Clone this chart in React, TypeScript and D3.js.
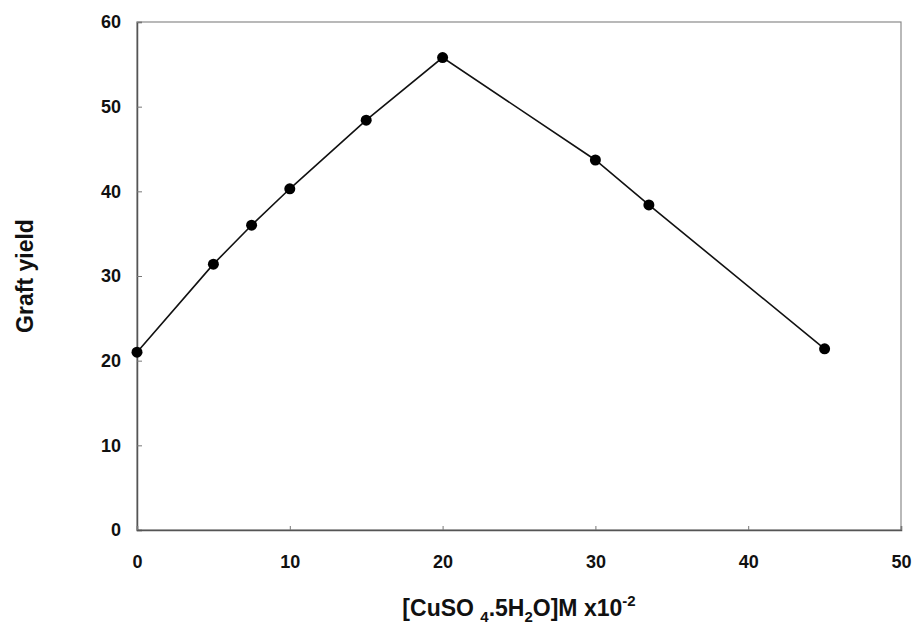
import React, { useEffect, useRef } from 'react';
import * as d3 from 'd3';

const width = 914;
const height = 625;
const margin = { top: 22, right: 12, bottom: 95, left: 137 };

// [CuSO4.5H2O] (M x10^-2) and graft yield
const conc = [0, 5, 7.5, 10, 15, 20, 30, 33.5, 45];
const graftYield = [21.0, 31.4, 36.0, 40.3, 48.4, 55.8, 43.7, 38.4, 21.4];
const xTicks = [0, 10, 20, 30, 40, 50];
const yTicks = [0, 10, 20, 30, 40, 50, 60];

const font = 'Liberation Sans, Arial, sans-serif';

const App = () => {
	const ref = useRef<SVGSVGElement | null>(null);

	useEffect(() => {
		const svg = d3.select(ref.current);
		svg.selectAll('*').remove();

		const x = d3
			.scaleLinear()
			.domain([0, 50])
			.range([margin.left, width - margin.right - 1]);
		const y = d3
			.scaleLinear()
			.domain([0, 60])
			.range([height - margin.bottom, margin.top]);

		// frame (top/right lighter like the scan)
		svg.append('rect')
			.attr('x', x(0))
			.attr('y', y(60))
			.attr('width', x(50) - x(0))
			.attr('height', y(0) - y(60))
			.attr('fill', 'none')
			.attr('stroke', '#8a8a8a')
			.attr('stroke-width', 1.2);

		const yAxis = svg
			.append('g')
			.attr('transform', `translate(${x(0)},0)`)
			.call(d3.axisLeft(y).tickValues(yTicks).tickSize(-5).tickPadding(16));
		const xAxis = svg
			.append('g')
			.attr('transform', `translate(0,${y(0)})`)
			.call(d3.axisBottom(x).tickValues(xTicks).tickSize(-4).tickPadding(25));

		[yAxis, xAxis].forEach((g) => {
			g.select('.domain').attr('stroke', '#555').attr('stroke-width', 1.5);
			g.selectAll('.tick line').attr('stroke', '#777');
			g.selectAll('text')
				.attr('font-family', font)
				.attr('font-weight', 'bold')
				.attr('font-size', 18)
				.attr('fill', '#111');
		});

		const line = d3
			.line<number>()
			.x((d, i) => x(conc[i]))
			.y((d) => y(d));

		svg.append('path')
			.datum(graftYield)
			.attr('d', line)
			.attr('fill', 'none')
			.attr('stroke', '#111')
			.attr('stroke-width', 1.6);

		svg.append('g')
			.selectAll('circle')
			.data(graftYield)
			.join('circle')
			.attr('cx', (d, i) => x(conc[i]))
			.attr('cy', (d) => y(d))
			.attr('r', 5.5)
			.attr('fill', '#000');

		// x axis title with sub/superscripts
		const xt = svg
			.append('text')
			.attr('x', (x(0) + x(50)) / 2)
			.attr('y', 616)
			.attr('text-anchor', 'middle')
			.attr('font-family', font)
			.attr('font-weight', 'bold')
			.attr('font-size', 23)
			.attr('fill', '#111');
		xt.append('tspan').text('[CuSO ');
		xt.append('tspan').attr('font-size', 15).attr('dy', 6).text('4');
		xt.append('tspan').attr('dy', -6).text('.5H');
		xt.append('tspan').attr('font-size', 15).attr('dy', 6).text('2');
		xt.append('tspan').attr('dy', -6).text('O]M x10');
		xt.append('tspan').attr('font-size', 15).attr('dy', -10).text('-2');

		svg.append('text')
			.attr('transform', `translate(33,${(y(0) + y(60)) / 2}) rotate(-90)`)
			.attr('text-anchor', 'middle')
			.attr('font-family', font)
			.attr('font-weight', 'bold')
			.attr('font-size', 23)
			.attr('fill', '#111')
			.text('Graft yield');
	}, []);

	return (
		<svg
			ref={ref}
			width={width}
			height={height}
			style={{ position: 'absolute', left: 0, top: 0, background: '#fff' }}
		/>
	);
};

export default App;
